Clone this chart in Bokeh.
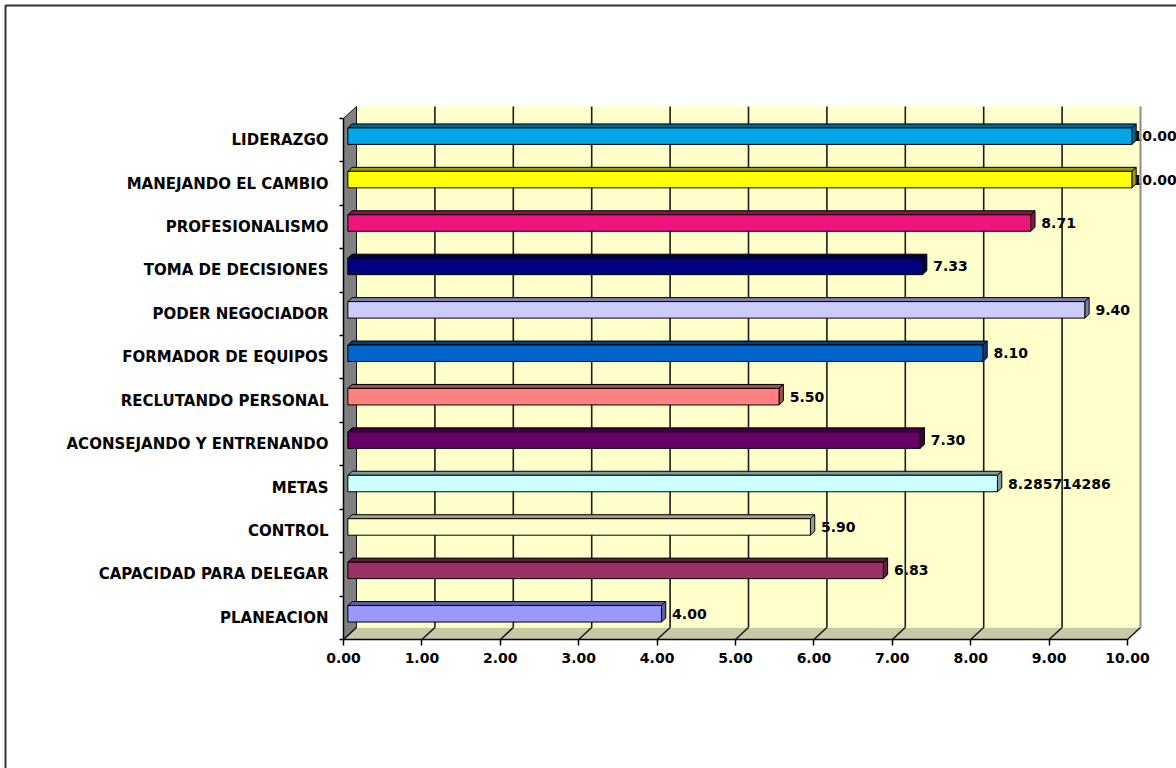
from bokeh.plotting import figure
from bokeh.models import Range1d, LinearAxis, FixedTicker
from bokeh.embed import file_html
from bokeh.resources import INLINE
from bokeh.core.properties import value

# ---- data -------------------------------------------------------------
categories = [
    "LIDERAZGO", "MANEJANDO EL CAMBIO", "PROFESIONALISMO", "TOMA DE DECISIONES",
    "PODER NEGOCIADOR", "FORMADOR DE EQUIPOS", "RECLUTANDO PERSONAL",
    "ACONSEJANDO Y ENTRENANDO", "METAS", "CONTROL", "CAPACIDAD PARA DELEGAR",
    "PLANEACION",
]
scores = [10.00, 10.00, 8.71, 7.33, 9.40, 8.10, 5.50, 7.30, 8.285714286, 5.90, 6.83, 4.00]
bar_colors = [
    "#00a6e6", "#ffff00", "#f0147f", "#000080", "#ccccff", "#0066cc",
    "#ff8080", "#660066", "#ccffff", "#ffffcc", "#993366", "#9999ff",
]
x_ticks = [0, 1, 2, 3, 4, 5, 6, 7, 8, 9, 10]
x_tick_labels = ["0.00", "1.00", "2.00", "3.00", "4.00", "5.00",
                 "6.00", "7.00", "8.00", "9.00", "10.00"]

# ---- page geometry (pixels) ------------------------------------------
W, H = 1176, 768
ORIGIN_X, ORIGIN_Y = 343, 639        # front-left corner of the floor
PX_PER_X, PX_PER_SLOT = 78.4, 43.42  # scale of one unit / one category slot

def dx(px):
    return px / PX_PER_X

def dy(px):
    return px / PX_PER_SLOT

n = len(categories)
x_max = x_ticks[-1]
DEPTH_X, DEPTH_Y = dx(13), dy(12)     # depth of the 3-D box
BAR_DX, BAR_DY = DEPTH_X / 3, DEPTH_Y / 3
BAR_H = dy(16.5)

p = figure(
    width=W, height=H,
    x_range=Range1d(-dx(ORIGIN_X), dx(W - ORIGIN_X)),
    y_range=Range1d(-dy(H - ORIGIN_Y), dy(ORIGIN_Y)),
    x_axis_type=None, y_axis_type=None,
    toolbar_location=None, output_backend="svg",
    min_border=0, outline_line_color=None,
    background_fill_color="white", border_fill_color="white",
)
p.xgrid.visible = False
p.ygrid.visible = False

# outer chart border (left and top edges)
p.line(x=[-dx(ORIGIN_X - 5), -dx(ORIGIN_X - 5), dx(W + 5 - ORIGIN_X)],
       y=[-dy(H + 5 - ORIGIN_Y), dy(ORIGIN_Y - 5), dy(ORIGIN_Y - 5)],
       line_color="#333333", line_width=2)

# ---- walls ------------------------------------------------------------
p.patch(x=[0, x_max, x_max + DEPTH_X, DEPTH_X], y=[0, 0, DEPTH_Y, DEPTH_Y],
        fill_color="#c9c9a6", line_color=None)
p.patch(x=[DEPTH_X, x_max + DEPTH_X, x_max + DEPTH_X, DEPTH_X],
        y=[DEPTH_Y, DEPTH_Y, n + DEPTH_Y, n + DEPTH_Y],
        fill_color="#ffffcc", line_color=None)
p.patch(x=[0, DEPTH_X, DEPTH_X, 0], y=[0, DEPTH_Y, n + DEPTH_Y, n],
        fill_color="#808080", line_color="#111111", line_width=1)

# ---- value labels (drawn under the gridlines and bars) ----------------
slots = [n - 1 - i for i in range(n)]
centers = [s + 0.5 + BAR_DY for s in slots]
label_text = [f"{v:.2f}" if round(v, 2) == v else f"{v:.9f}" for v in scores]
label_x = [min(v + dx(15), x_max + dx(5)) for v in scores]
p.text(x=label_x, y=centers, text=label_text,
       text_font=value("DejaVu Sans"), text_font_style="bold",
       text_font_size="14px", text_color="#000000",
       text_align="left", text_baseline="middle")

# gridlines on back wall and floor
inner = x_ticks[1:-1]
p.multi_line(xs=[[k + DEPTH_X, k + DEPTH_X] for k in inner],
             ys=[[DEPTH_Y, n + DEPTH_Y] for _ in inner],
             line_color="#1a1a1a", line_width=1.6)
p.multi_line(xs=[[k, k + DEPTH_X] for k in x_ticks],
             ys=[[0, DEPTH_Y] for _ in x_ticks],
             line_color="#1a1a1a", line_width=1.6)
p.line(x=[x_max + DEPTH_X, x_max + DEPTH_X], y=[DEPTH_Y, n + DEPTH_Y],
       line_color="#8c8c8c", line_width=2)

# ---- 3-D bars ---------------------------------------------------------
def shade(hex_color, f):
    r, g, b = (int(hex_color[i:i + 2], 16) for i in (1, 3, 5))
    return "#%02x%02x%02x" % (int(r * f), int(g * f), int(b * f))

front_xs, front_ys, top_xs, top_ys, side_xs, side_ys = [], [], [], [], [], []
for v, yc in zip(scores, centers):
    x0, x1 = BAR_DX, v + BAR_DX
    yb, yt = yc - BAR_H / 2, yc + BAR_H / 2
    front_xs.append([x0, x1, x1, x0])
    front_ys.append([yb, yb, yt, yt])
    top_xs.append([x0, x1, x1 + BAR_DX, x0 + BAR_DX])
    top_ys.append([yt, yt, yt + BAR_DY, yt + BAR_DY])
    side_xs.append([x1, x1 + BAR_DX, x1 + BAR_DX, x1])
    side_ys.append([yb, yb + BAR_DY, yt + BAR_DY, yt])

dark = [shade(c, 0.62) for c in bar_colors]
p.patches(xs=top_xs, ys=top_ys, fill_color=dark, line_color="#000000", line_width=1)
p.patches(xs=side_xs, ys=side_ys, fill_color=dark, line_color="#000000", line_width=1)
p.patches(xs=front_xs, ys=front_ys, fill_color=bar_colors, line_color="#000000", line_width=1)

# ---- axes -------------------------------------------------------------
xaxis = LinearAxis(
    fixed_location=0, bounds=(0, x_max),
    ticker=FixedTicker(ticks=x_ticks),
    major_label_overrides={t: s for t, s in zip(x_ticks, x_tick_labels)},
    major_tick_out=6, major_tick_in=0, minor_tick_out=0, minor_tick_in=0,
    axis_line_color="#000000", axis_line_width=1.5,
    major_tick_line_color="#000000", major_tick_line_width=1.5,
    major_label_standoff=7,
    major_label_text_font="DejaVu Sans", major_label_text_font_style="bold",
    major_label_text_font_size="14px", major_label_text_color="#000000",
)
p.add_layout(xaxis, "below")

slot_axis = LinearAxis(
    fixed_location=0, bounds=(0, n),
    ticker=FixedTicker(ticks=list(range(n + 1))),
    major_label_overrides={k: "" for k in range(n + 1)},
    major_tick_out=4, major_tick_in=0, minor_tick_out=0, minor_tick_in=0,
    axis_line_color="#000000", axis_line_width=1.5,
    major_tick_line_color="#000000", major_tick_line_width=1.5,
)
p.add_layout(slot_axis, "left")

centers_axis = [s + 0.5 for s in slots]
cat_axis = LinearAxis(
    fixed_location=0,
    ticker=FixedTicker(ticks=centers_axis),
    major_label_overrides={c: name for c, name in zip(centers_axis, categories)},
    major_tick_out=0, major_tick_in=0, minor_tick_out=0, minor_tick_in=0,
    axis_line_color=None, major_label_standoff=15,
    major_label_text_font="DejaVu Sans", major_label_text_font_style="bold",
    major_label_text_font_size="15px", major_label_text_color="#000000",
)
p.add_layout(cat_axis, "left")

open("out.html", "w").write(file_html(p, INLINE))
